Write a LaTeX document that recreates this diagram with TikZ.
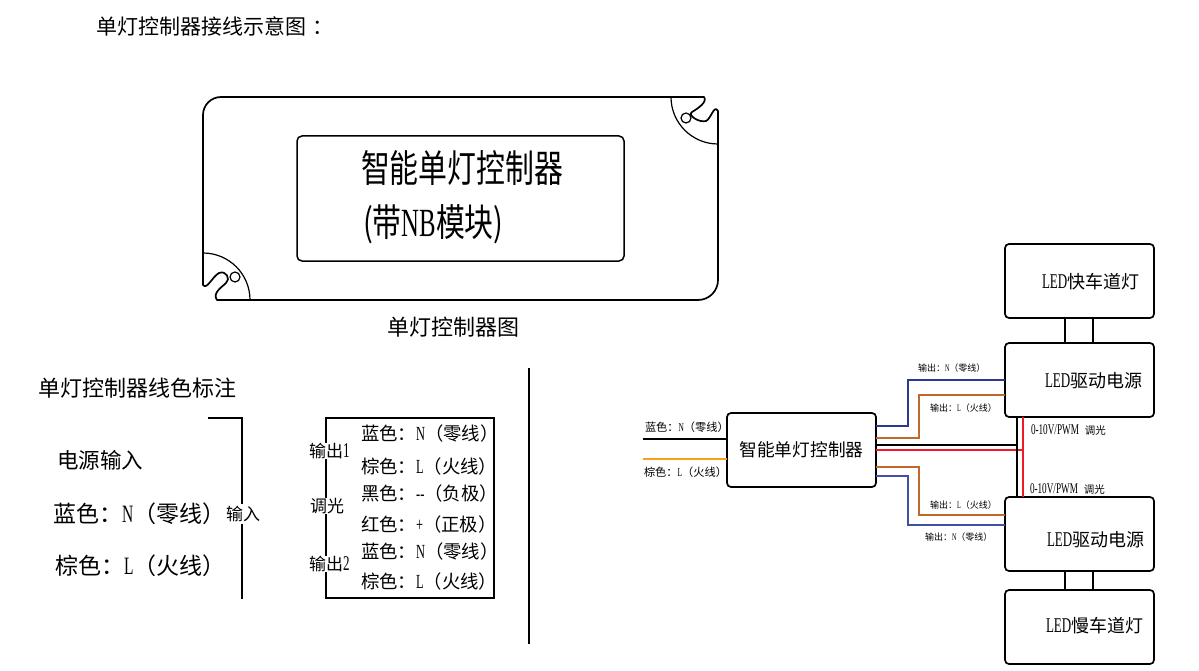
\documentclass[tikz,border=0pt]{standalone}
\usepackage{fontspec}
\setmainfont{Noto Sans CJK SC}
\newfontfamily\cjc[FakeStretch=0.76]{Noto Sans CJK SC}
\newfontfamily\lat[FakeStretch=0.62]{Liberation Serif}
\newcommand{\fsz}[1]{\fontsize{#1}{#1}\selectfont}
\usetikzlibrary{calc}
\definecolor{wblue}{HTML}{2B3A8F}
\definecolor{wblueb}{HTML}{3F51A5}
\definecolor{wbrown}{HTML}{C0692A}
\definecolor{worange}{HTML}{F7A11B}
\definecolor{wred}{HTML}{ED1C24}
\tikzset{
  devbox/.style={draw,line width=1.7pt,rounded corners=4pt,outer sep=0pt,inner sep=0pt,minimum width=149pt,minimum height=74pt},
  txt/.style={anchor=west,inner sep=0pt,outer sep=0pt},
  txtw/.style={txt,fill=white},
  wire/.style={line width=1.6pt},
  outline/.style={line width=1.7pt,line join=round},
  thin part/.style={line width=1.2pt},
}
\begin{document}
\begin{tikzpicture}[x=1pt,y=-1pt]
\useasboundingbox (0,0) rectangle (1199,671);
% title
\node[txt] (title) at (96,26) {\fsz{21}单灯控制器接线示意图\hspace{7pt}：};
% controller outline
\draw[outline] (217,300) -- (698,300) arc[start angle=90,end angle=0,radius=20] -- (718,111)
  .. controls (714,104) and (711,119) .. (706,121)
  .. controls (699,123) and (687,115) .. (692,112)
  .. controls (697,109) and (708,102) .. (704,97)
  -- (221,97) arc[start angle=-90,end angle=-180,radius=18] -- (203,285)
  .. controls (207,290) and (212,277) .. (219,273)
  .. controls (226,270) and (231,279) .. (226,283)
  .. controls (222,287) and (212,293) .. (217,300) -- cycle;
\draw[thin part] (671,97) arc[start angle=180,end angle=90,radius=47];
\draw[thin part] (203,253) arc[start angle=-90,end angle=0,radius=47];
\draw[thin part] (686,118) circle[radius=5];
\draw[thin part] (235,277) circle[radius=5];
\node[draw,line width=1.5pt,rounded corners=5pt,minimum width=327pt,minimum height=125pt,inner sep=0pt,outer sep=0pt] (inner) at (460.5,198.5) {};
\node[txt] (name1) at (361,168) {\cjc\fsz{38}智能单灯控制器};
\node[txt] (name2) at (363,224) {\cjc\fsz{38}(带{\lat\fsz{40}NB}模块)};
\node[txt] (cap) at (387,327) {\fsz{22}单灯控制器图};
% left legend
\node[txt] (leg) at (38,388) {\fsz{22}单灯控制器线色标注};
\node[txt] (pw) at (57,460) {\fsz{21.5}电源输入};
\node[txt] (pn) at (53,514) {\fsz{23}蓝色：{\lat\fsz{25}N}（零线）};
\node[txt] (pl) at (55,566) {\fsz{23}棕色：{\lat\fsz{25}L}（火线）};
\draw[line width=1.5pt] (208,418) -- (242,418) -- (242,599);
\node[txt,fill=white,inner ysep=2pt] (inp) at (226,514) {\fsz{17}输入};
% table
\draw[line width=1.6pt] (326,418) rectangle (494,598);
\node[txtw] (o1) at (309,451) {\fsz{17}输出{\lat\fsz{21}1}};
\node[txtw] (dim) at (310,506) {\fsz{17}调光};
\node[txtw] (o2) at (309,564) {\fsz{17}输出{\lat\fsz{21}2}};
\node[txt] (r1) at (361,434) {\fsz{18.4}蓝色：{\lat\fsz{20}N}（零线）};
\node[txt] (r2) at (361,467) {\fsz{18.4}棕色：{\lat\fsz{20}L}（火线）};
\node[txt] (r3) at (361,494) {\fsz{18.4}黑色：{\lat\fsz{20}--}（负极）};
\node[txt] (r4) at (361,525) {\fsz{18.4}红色：{\lat\fsz{20}+}（正极）};
\node[txt] (r5) at (361,552) {\fsz{18.4}蓝色：{\lat\fsz{20}N}（零线）};
\node[txt] (r6) at (361,582) {\fsz{18.4}棕色：{\lat\fsz{20}L}（火线）};
% divider
\coordinate (dt) at (529,368);
\coordinate (db) at (529,644);
\draw[line width=1.7pt] (dt) -- (db);
% wiring diagram
\node[devbox] (ctrl) at (801.5,450) {\fsz{17.7}智能单灯控制器};
\node[devbox] (fast) at (1079.5,281) {};
\node[devbox] (d1) at (1079.5,380) {};
\node[devbox] (d2) at (1079.5,534) {};
\node[devbox] (slow) at (1079.5,627) {};
\node[txt] (tfast) at (1042,282) {{\lat\fsz{21}LED}\fsz{18}快车道灯};
\node[txt] (td1) at (1045,381) {{\lat\fsz{21}LED}\fsz{18}驱动电源};
\node[txt] (td2) at (1047,540) {{\lat\fsz{21}LED}\fsz{18}驱动电源};
\node[txt] (tslow) at (1046,626) {{\lat\fsz{21}LED}\fsz{18}慢车道灯};
\coordinate (inN) at (643,439);
\coordinate (inL) at (643,459);
\draw[wire,black] (inN) -- (inN -| ctrl.west);
\draw[wire,worange] (inL) -- (inL -| ctrl.west);
\draw[wire,wblue] ([yshift=24pt]ctrl.east) -- ++(32,0) |- (d1.west);
\draw[wire,wbrown] ([yshift=12pt]ctrl.east) -- ++(43,0) |- ([yshift=-15pt]d1.west);
\draw[wire,wbrown] ([yshift=-17pt]ctrl.east) -- ++(43,0) |- ([yshift=19pt]d2.west);
\draw[wire,wblueb] ([yshift=-26pt]ctrl.east) -- ++(32,0) |- ([yshift=9pt]d2.west);
\coordinate (blk) at (1017,417);
\coordinate (rd) at (1023,417);
\draw[wire,black] ([yshift=5pt]ctrl.east) -- ([yshift=5pt]ctrl.east -| blk);
\draw[wire,wred] (ctrl.east) -- (ctrl.east -| rd);
\draw[wire,black] (blk |- d1.south) -- (blk |- d2.north);
\draw[wire,wred] (rd |- d1.south) -- (rd |- d2.north);
\draw[wire,black] ([xshift=-14.5pt]fast.south) -- ([xshift=-14.5pt]d1.north);
\draw[wire,black] ([xshift=13.5pt]fast.south) -- ([xshift=13.5pt]d1.north);
\draw[wire,black] ([xshift=-14.5pt]d2.south) -- ([xshift=-14.5pt]slow.north);
\draw[wire,black] ([xshift=13.5pt]d2.south) -- ([xshift=13.5pt]slow.north);
% wire labels
\node[txt] (w1) at (645,427) {\fsz{11.2}蓝色：{\lat\fsz{12}N}（零线）};
\node[txt] (w2) at (644,472) {\fsz{11.2}棕色：{\lat\fsz{12}L}（火线）};
\node[txt] (w3) at (918,368) {\fsz{9}输出：{\lat\fsz{10}N}（零线）};
\node[txt] (w4) at (930,408) {\fsz{9}输出：{\lat\fsz{10}L}（火线）};
\node[txt] (w5) at (930,505) {\fsz{9}输出：{\lat\fsz{10}L}（火线）};
\node[txt] (w6) at (925,537) {\fsz{9}输出：{\lat\fsz{10}N}（零线）};
\node[txt] (w7) at (1031,430) {{\lat\fsz{14.8}0-10V/PWM}\hspace{6pt}\fsz{10.5}调光};
\node[txt] (w8) at (1030,489) {{\lat\fsz{14.8}0-10V/PWM}\hspace{6pt}\fsz{10.5}调光};
\end{tikzpicture}
\end{document}
